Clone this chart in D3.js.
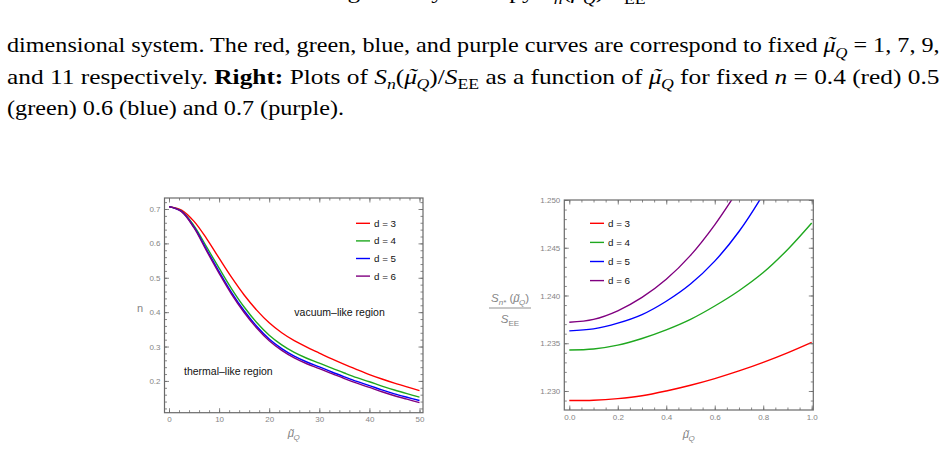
<!DOCTYPE html>
<html>
<head>
<meta charset="utf-8">
<script src="https://cdn.jsdelivr.net/npm/d3@7/dist/d3.min.js"></script>
<style>
  body { margin: 0; background: #fff; }
  svg { display: block; }
</style>
</head>
<body>
<div id="page"></div>
<script>
// ---- Data ----

// Left panel: n versus mu_Q for each dimension d
var muLeft = [0, 2.5, 5, 7.5, 10, 12.5, 15, 17.5, 20, 22.5, 25, 27.5, 30, 32.5, 35, 37.5, 40, 42.5, 45, 47.5, 50];
var nD3 = [0.707, 0.697, 0.664, 0.614, 0.557, 0.501, 0.450, 0.406, 0.369, 0.340, 0.317, 0.298, 0.281,
           0.264, 0.248, 0.233, 0.2185, 0.2055, 0.1935, 0.1825, 0.172];
var nD4 = [0.707, 0.694, 0.651, 0.590, 0.528, 0.468, 0.415, 0.370, 0.333, 0.305, 0.283, 0.266, 0.252,
           0.237, 0.223, 0.2095, 0.1975, 0.185, 0.1735, 0.163, 0.153];
var nD5 = [0.707, 0.693, 0.647, 0.582, 0.518, 0.457, 0.404, 0.359, 0.322, 0.294, 0.272, 0.255, 0.241,
           0.226, 0.212, 0.1985, 0.1865, 0.174, 0.1625, 0.1525, 0.143];
var nD6 = [0.707, 0.6925, 0.645, 0.578, 0.513, 0.452, 0.399, 0.354, 0.317, 0.289, 0.267, 0.250, 0.236,
           0.221, 0.207, 0.1935, 0.181, 0.1685, 0.157, 0.147, 0.137];

// Right panel: S_n*/S_EE versus mu_Q
var muRight = [0, 0.1, 0.2, 0.3, 0.4, 0.5, 0.6, 0.7, 0.8, 0.9, 1.0];
var sD3 = [1.2290, 1.22903, 1.2292, 1.2295, 1.2300, 1.2306, 1.2313, 1.2321, 1.2330, 1.2340, 1.2351];
var sD4 = [1.2343, 1.2344, 1.2348, 1.2355, 1.2364, 1.2375, 1.2389, 1.2405, 1.2424, 1.2448, 1.2476];
var sD5 = [1.2363, 1.2365, 1.2371, 1.2380, 1.2394, 1.2412, 1.2436, 1.2467, 1.2506, 1.2552];
var sD6 = [1.2372, 1.2375, 1.2384, 1.2398, 1.2417, 1.2442, 1.2474, 1.2512];

var legendLabels = ["d = 3", "d = 4", "d = 5", "d = 6"];
var colors = ["#ff0000", "#1fa81f", "#0000ff", "#800080"];

var leftTicksX = [0, 10, 20, 30, 40, 50];
var leftTicksY = [0.2, 0.3, 0.4, 0.5, 0.6, 0.7];
var rightTicksX = [0, 0.2, 0.4, 0.6, 0.8, 1.0];
var rightTicksY = [1.230, 1.235, 1.240, 1.245, 1.250];

// ---- Page ----
var W = 947, H = 451;
var svg = d3.select("#page").append("svg")
    .attr("width", W)
    .attr("height", H);

svg.append("rect").attr("width", W).attr("height", H).attr("fill", "#fff");

// Rich text helper: parts = [{t, i, b, sub, tilde}]
// tilde: draws a "~" accent centred over the glyph (glyph width, tilde width in em)
function richText(parent, x, y, parts, size, family) {
    var text = parent.append("text")
        .attr("x", x)
        .attr("y", y)
        .style("font-family", family)
        .style("font-size", size + "px")
        .attr("fill", "#000");
    var shift = 0;
    parts.forEach(function(p) {
        var target = p.sub ? size * 0.26 : 0;
        var ts = text.append("tspan")
            .attr("dy", target - shift)
            .text(p.t);
        shift = target;
        if (p.i) ts.style("font-style", "italic");
        if (p.b) ts.style("font-weight", "bold");
        if (p.sub) ts.style("font-size", (size * 0.7) + "px");
        if (p.tilde) {
            var back = -size * (p.tilde[0] + p.tilde[1]) / 2 + size * 0.06;
            var fwd = size * (p.tilde[0] - p.tilde[1]) / 2 - size * 0.06;
            text.append("tspan")
                .attr("dx", back)
                .attr("dy", -size * 0.04)
                .style("font-style", "italic")
                .text("\u02dc");
            shift -= size * 0.04;
            text.append("tspan").attr("dx", fwd).text("");
        }
    });
    return text;
}

// Caption text (serif, as in the paper)
var capFont = "'Liberation Serif', 'DejaVu Serif', serif";
var capSize = 22;
var mu = {t: "\u03bc", i: true, tilde: [0.5, 0.333]};
var Q = {t: "Q", i: true, sub: true};

var captionLines = [
    [{t: "Left: Plots of the normalized charged R\u00e9nyi entropy "}, {t: "S", i: true}, {t: "n", i: true, sub: true},
     {t: "("}, mu, Q, {t: ")/"}, {t: "S", i: true}, {t: "EE", sub: true},
     {t: " as a function of "}, {t: "n", i: true}, {t: " for a "}, {t: "d", i: true}, {t: " = 4 "}],
    [{t: "dimensional system. The red, green, blue, and purple curves are correspond to fixed "},
     mu, Q, {t: " = 1, 7, 9,"}],
    [{t: "and 11 respectively. "}, {t: "Right:", b: true}, {t: " Plots of "}, {t: "S", i: true}, {t: "n", i: true, sub: true},
     {t: "("}, mu, Q, {t: ")/"}, {t: "S", i: true}, {t: "EE", sub: true},
     {t: " as a function of "}, mu, Q, {t: " for fixed "}, {t: "n", i: true}, {t: " = 0.4 (red) 0.5"}],
    [{t: "(green) 0.6 (blue) and 0.7 (purple)."}]
];
var captionY = [-2, 52, 83.5, 115];
var captionW = [933, 933, 933, null];

var capScale = 1;
captionLines.forEach(function(parts, i) {
    var g = svg.append("g");
    var t = richText(g, 0, 0, parts, capSize, capFont);
    var w = t.node().getBBox().width;
    if (i === 1) capScale = captionW[i] / w;
    var sx = captionW[i] ? captionW[i] / w : capScale;
    g.attr("transform", "translate(7," + captionY[i] + ") scale(" + sx + ",1)");
});

// ---- Chart helpers ----
var frameColor = "#6a6a6a";
var labelColor = "#858585";
var sansFont = "'Liberation Sans', Arial, sans-serif";

function drawFrame(g, x, y, box, majX, minX, majY, minY, fmtX, fmtY) {
    // Minor ticks on all sides
    g.append("g").attr("transform", "translate(0," + box.bottom + ")")
        .call(d3.axisBottom(x).tickValues(minX).tickSize(-2.5).tickFormat(""));
    g.append("g").attr("transform", "translate(0," + box.top + ")")
        .call(d3.axisTop(x).tickValues(minX).tickSize(-2.5).tickFormat(""));
    g.append("g").attr("transform", "translate(" + box.left + ",0)")
        .call(d3.axisLeft(y).tickValues(minY).tickSize(-2.5).tickFormat(""));
    g.append("g").attr("transform", "translate(" + box.right + ",0)")
        .call(d3.axisRight(y).tickValues(minY).tickSize(-2.5).tickFormat(""));
    // Major ticks with labels on bottom and left
    g.append("g").attr("class", "lab").attr("transform", "translate(0," + box.bottom + ")")
        .call(d3.axisBottom(x).tickValues(majX).tickSize(-4.5).tickPadding(4).tickFormat(fmtX));
    g.append("g").attr("transform", "translate(0," + box.top + ")")
        .call(d3.axisTop(x).tickValues(majX).tickSize(-4.5).tickFormat(""));
    g.append("g").attr("class", "lab").attr("transform", "translate(" + box.left + ",0)")
        .call(d3.axisLeft(y).tickValues(majY).tickSize(-4.5).tickPadding(4).tickFormat(fmtY));
    g.append("g").attr("transform", "translate(" + box.right + ",0)")
        .call(d3.axisRight(y).tickValues(majY).tickSize(-4.5).tickFormat(""));

    g.selectAll(".domain").remove();
    g.selectAll(".tick line").attr("stroke", frameColor).attr("stroke-width", 0.8);
    g.selectAll(".lab text")
        .attr("fill", labelColor)
        .style("font-family", sansFont)
        .style("font-size", "8px");

    g.append("rect")
        .attr("x", box.left)
        .attr("y", box.top)
        .attr("width", box.right - box.left)
        .attr("height", box.bottom - box.top)
        .attr("fill", "none")
        .attr("stroke", frameColor)
        .attr("stroke-width", 1.2);
}

function drawLegend(g, x0, y0, step) {
    legendLabels.forEach(function(l, i) {
        var yy = y0 + i * step;
        g.append("line")
            .attr("x1", x0).attr("x2", x0 + 14)
            .attr("y1", yy).attr("y2", yy)
            .attr("stroke", colors[i])
            .attr("stroke-width", 1.4);
        g.append("text")
            .attr("x", x0 + 18)
            .attr("y", yy + 3.4)
            .style("font-family", sansFont)
            .style("font-size", "9.8px")
            .attr("fill", "#111")
            .text(l);
    });
}

var muSans = {t: "\u03bc", i: true, tilde: [0.577, 0.333]};

function muLabel(g, cx, y, size) {
    var t = richText(g, cx, y, [muSans, Q], size, sansFont);
    t.attr("fill", labelColor).attr("text-anchor", "middle");
    return t;
}

// ---- Left chart ----
var boxL = {left: 164.5, right: 423, top: 198, bottom: 412.7};
var xL = d3.scaleLinear().domain([-0.9, 50.7]).range([boxL.left, boxL.right]);
var yL = d3.scaleLinear().domain([0.1076, 0.732]).range([boxL.bottom, boxL.top]);
var left = svg.append("g");

left.append("clipPath").attr("id", "clipL").append("rect")
    .attr("x", boxL.left).attr("y", boxL.top)
    .attr("width", boxL.right - boxL.left).attr("height", boxL.bottom - boxL.top);

var lineL = d3.line()
    .x(function(d) { return xL(d[0]); })
    .y(function(d) { return yL(d[1]); })
    .curve(d3.curveCatmullRom.alpha(0.5));

[nD3, nD4, nD5, nD6].forEach(function(s, i) {
    left.append("path")
        .datum(muLeft.map(function(m, j) { return [m, s[j]]; }))
        .attr("clip-path", "url(#clipL)")
        .attr("fill", "none")
        .attr("stroke", colors[i])
        .attr("stroke-width", 1.4)
        .attr("d", lineL);
});

drawFrame(left, xL, yL, boxL,
    leftTicksX, d3.range(0, 51, 2), leftTicksY, d3.range(0.12, 0.73, 0.02),
    d3.format("d"), d3.format(".1f"));

drawLegend(left, 356, 223.3, 17.6);

left.append("text")
    .attr("x", 294.3).attr("y", 316)
    .style("font-family", sansFont).style("font-size", "10.5px")
    .attr("fill", "#111")
    .text("vacuum\u2013like region");
left.append("text")
    .attr("x", 184).attr("y", 375)
    .style("font-family", sansFont).style("font-size", "10.5px")
    .attr("fill", "#111")
    .text("thermal\u2013like region");

left.append("text")
    .attr("x", 140).attr("y", 312)
    .attr("text-anchor", "middle")
    .style("font-family", sansFont).style("font-size", "11px")
    .attr("fill", labelColor)
    .text("n");
muLabel(left, (boxL.left + boxL.right) / 2, 437, 11.5);

// ---- Right chart ----
var boxR = {left: 564.3, right: 813.3, top: 200, bottom: 410};
var xR = d3.scaleLinear().domain([-0.0206, 1.0066]).range([boxR.left, boxR.right]);
var yR = d3.scaleLinear().domain([1.22801, 1.25]).range([boxR.bottom, boxR.top]);
var right = svg.append("g");

right.append("clipPath").attr("id", "clipR").append("rect")
    .attr("x", boxR.left).attr("y", boxR.top)
    .attr("width", boxR.right - boxR.left).attr("height", boxR.bottom - boxR.top);

var lineR = d3.line()
    .x(function(d) { return xR(d[0]); })
    .y(function(d) { return yR(d[1]); })
    .curve(d3.curveCatmullRom.alpha(0.5));

[sD3, sD4, sD5, sD6].forEach(function(s, i) {
    right.append("path")
        .datum(s.map(function(v, j) { return [muRight[j], v]; }))
        .attr("clip-path", "url(#clipR)")
        .attr("fill", "none")
        .attr("stroke", colors[i])
        .attr("stroke-width", 1.4)
        .attr("d", lineR);
});

drawFrame(right, xR, yR, boxR,
    rightTicksX, d3.range(0, 1.001, 0.05), rightTicksY, d3.range(1.229, 1.2501, 0.001),
    d3.format(".1f"), d3.format(".3f"));

drawLegend(right, 590, 223.3, 19.1);

muLabel(right, (boxR.left + boxR.right) / 2, 438, 11.5);

// y label as a fraction: S_n*(mu_Q) / S_EE
var fracX = 510;
var num = richText(right, fracX, 302,
    [{t: "S", i: true}, {t: "n*", i: true, sub: true}, {t: " ("}, muSans, Q, {t: ")"}], 11.5, sansFont);
num.attr("text-anchor", "middle").attr("fill", labelColor);
right.append("line")
    .attr("x1", fracX - 21).attr("x2", fracX + 21)
    .attr("y1", 308).attr("y2", 308)
    .attr("stroke", labelColor).attr("stroke-width", 0.9);
var den = richText(right, fracX, 323,
    [{t: "S", i: true}, {t: "EE", sub: true}], 11.5, sansFont);
den.attr("text-anchor", "middle").attr("fill", labelColor);
</script>
</body>
</html>
